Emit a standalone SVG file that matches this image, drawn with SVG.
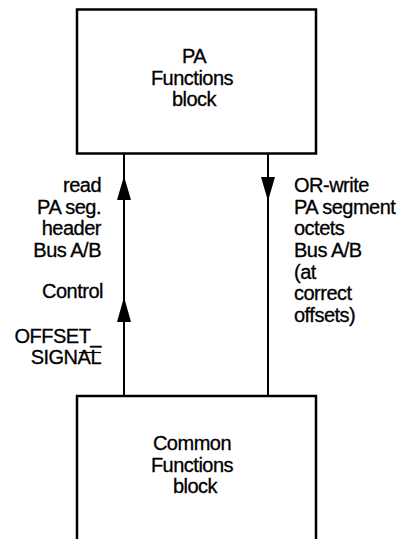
<svg xmlns="http://www.w3.org/2000/svg" width="405" height="539" viewBox="0 0 405 539">
<style>
.box{fill:#fff;stroke:#000;stroke-width:2.5}
.ln{stroke:#000;stroke-width:2;fill:none}
.ah{fill:#000;stroke:none}
text{font-family:"Liberation Sans",Arial,Helvetica,sans-serif;font-size:20px;fill:#000;stroke:#000;stroke-width:0.3;letter-spacing:-0.5px}
.c{text-anchor:middle}
.r{text-anchor:end}
</style>
<g id="connectors">
<line class="ln" x1="124" y1="154" x2="124" y2="396"/>
<line class="ln" x1="268" y1="154" x2="268" y2="396"/>
<polygon class="ah" points="124,176 117,200 131,200"/>
<polygon class="ah" points="124,297 117,322 131,322"/>
<polygon class="ah" points="268,201 261,177 275,177"/>
<g id="label-left">
<text class="r" x="101" y="192">read</text>
<text class="r" x="101" y="213.5">PA seg.</text>
<text class="r" x="101" y="235">header</text>
<text class="r" x="101" y="257">Bus A/B</text>
<text class="r" x="103" y="298">Control</text>
<text class="r" x="101" y="343">OFFSET_</text>
<text class="r" x="101" y="364">SIGNAL</text>
<line x1="79" y1="352.5" x2="101" y2="352.5" stroke="#000" stroke-width="1.2"/>
</g>
<g id="label-right">
<text x="294" y="192">OR-write</text>
<text x="294" y="213.5">PA segment</text>
<text x="294" y="235">octets</text>
<text x="294" y="257">Bus A/B</text>
<text x="294" y="278.5">(at</text>
<text x="294" y="300">correct</text>
<text x="294" y="321.5">offsets)</text>
</g>
</g>
<g id="pa-functions">
<rect class="box" x="77" y="9.5" width="239" height="144"/>
<text class="c" x="194" y="63">PA</text>
<text class="c" x="192" y="85">Functions</text>
<text class="c" x="194" y="106">block</text>
</g>
<g id="common-functions">
<rect class="box" x="77" y="396" width="239" height="160"/>
<text class="c" x="192" y="450">Common</text>
<text class="c" x="192" y="472">Functions</text>
<text class="c" x="195" y="493">block</text>
</g>
</svg>
